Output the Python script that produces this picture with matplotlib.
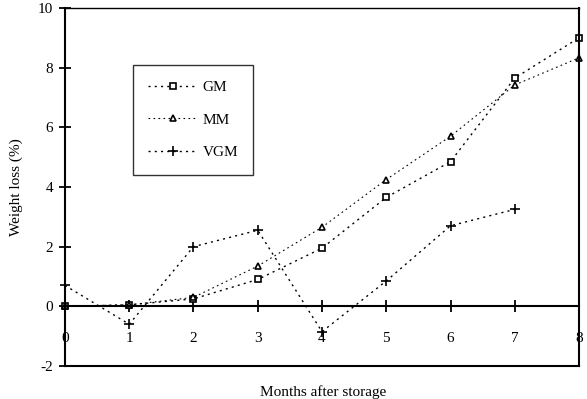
import numpy as np
import matplotlib.pyplot as plt

plt.rcParams['font.family'] = ['Liberation Serif', 'DejaVu Serif']
plt.rcParams['axes.unicode_minus'] = False

months = [0, 1, 2, 3, 4, 5, 6, 7, 8]
gm = [0.0, 0.05, 0.25, 0.9, 1.95, 3.65, 4.85, 7.65, 9.0]
mm = [0.0, 0.05, 0.3, 1.35, 2.65, 4.25, 5.7, 7.42, 8.33]
vgm_months = [0, 1, 2, 3, 4, 5, 6, 7]
vgm = [0.7, -0.6, 2.0, 2.55, -0.85, 0.85, 2.7, 3.25]

fig = plt.figure(figsize=(5.87, 3.99), dpi=100)
ax = fig.add_axes([0.1107, 0.0827, 0.8757, 0.8973])

ls = (0, (1.5, 3))
ax.plot(months, gm, color='black', lw=1, linestyle=ls, marker='s', ms=5,
        mfc='white', mec='black', mew=1.2, label='GM', clip_on=False)
ax.plot(months, mm, color='black', lw=0.8, linestyle=ls, marker='^', ms=5,
        mfc='white', mec='black', mew=1.2, label='MM', clip_on=False)
ax.plot(vgm_months, vgm, color='black', lw=1, linestyle=ls, marker='+', ms=7,
        mec='black', mew=1.2, label='VGM', clip_on=False)

ax.set_xlim(0, 8)
ax.set_ylim(-2, 10)

# x axis drawn through zero, frame kept at the bottom
ax.spines['bottom'].set_position(('data', 0))
ax.spines['bottom'].set_linewidth(1.5)
ax.axhline(-2, color='black', lw=1.5, clip_on=False)
ax.spines['left'].set_linewidth(1.5)
ax.spines['right'].set_linewidth(1.5)
ax.spines['top'].set_linewidth(1.0)

ax.set_xticks(months)
ax.set_yticks([-2, 0, 2, 4, 6, 8, 10])
ax.tick_params(axis='x', direction='inout', length=9, width=1.3, pad=14,
               labelsize=11)
ax.tick_params(axis='y', direction='inout', length=9, width=1.3, pad=4,
               labelsize=11)

ax.set_xlabel('Months after storage', fontsize=11)
ax.xaxis.set_label_coords(0.503, -0.055)
ax.set_ylabel('Weight loss (%)', fontsize=11)
ax.yaxis.set_label_coords(-0.082, 0.5)

leg = ax.legend(loc='upper left', bbox_to_anchor=(0.132, 0.841),
                borderaxespad=0, frameon=True, fancybox=False,
                edgecolor='black', fontsize=11, handlelength=3.2,
                labelspacing=1.25, borderpad=1.0, handletextpad=0.35)
leg.get_frame().set_linewidth(1.0)

fig.savefig('out.png', dpi=100)
